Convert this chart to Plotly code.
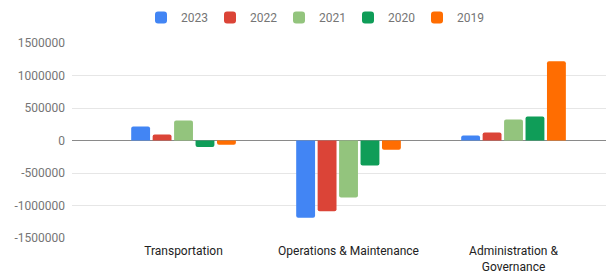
import plotly.graph_objects as go

categories = ["Transportation", "Operations & Maintenance", "Administration &<br>Governance"]
years = ["2023", "2022", "2021", "2020", "2019"]
values_2023 = [215000, -1190000, 77000]
values_2022 = [92000, -1088000, 123000]
values_2021 = [308000, -877000, 323000]
values_2020 = [-100000, -385000, 369000]
values_2019 = [-66000, -143000, 1220000]
tick_values = [-1500000, -1000000, -500000, 0, 500000, 1000000, 1500000]
tick_labels = ["-1500000", "-1000000", "-500000", "0", "500000", "1000000", "1500000"]

series = [values_2023, values_2022, values_2021, values_2020, values_2019]
colors = ["#4285F4", "#DB4437", "#93C47D", "#0F9D58", "#FF6D01"]

fig = go.Figure()
for name, vals, col in zip(years, series, colors):
    fig.add_trace(go.Bar(x=categories, y=vals, name=name,
                         marker=dict(color=col, line=dict(width=0), cornerradius=2)))

# page body has an 8px margin, so the figure is sized to fill the rest of the window
W, H = 606, 263
T, B, L = 35, 33, 64
ph = H - T - B

fig.update_layout(
    width=W, height=H,
    margin=dict(l=L, r=0, t=T, b=B, autoexpand=False),
    paper_bgcolor="white", plot_bgcolor="white",
    font=dict(family="Roboto, Arial, sans-serif", size=12, color="#757575"),
    barmode="group", bargap=0.35, bargroupgap=0.12,
    showlegend=True,
    legend=dict(orientation="h", xref="container", x=133 / W, xanchor="left",
                yref="paper", y=1 + (T + 5) / ph, yanchor="top",
                font=dict(size=12, color="#757575"),
                entrywidth=24, entrywidthmode="pixels", itemwidth=30,
                bgcolor="rgba(0,0,0,0)"),
)
fig.update_xaxes(type="category", range=[-0.676, 2.609], showgrid=False, showline=False,
                 ticks="", ticklabelstandoff=4,
                 tickfont=dict(color="#222222", size=12), fixedrange=True)
fig.update_yaxes(range=[-1500000, 1500000], tickvals=tick_values, ticktext=tick_labels,
                 showgrid=True, gridcolor="#E6E6E6", gridwidth=1,
                 zeroline=True, zerolinecolor="#8A8A8A", zerolinewidth=1,
                 showline=False, ticks="", ticklabelstandoff=6,
                 tickfont=dict(color="#757575", size=12))

fig.write_html("out.html")
